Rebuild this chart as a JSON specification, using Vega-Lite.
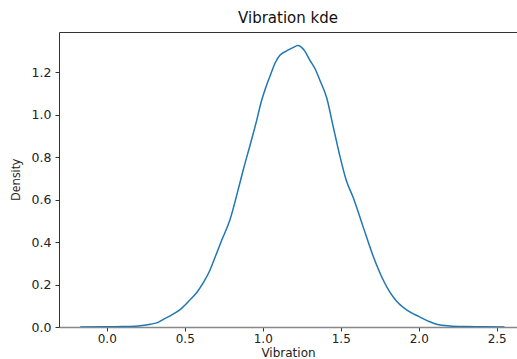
{
  "$schema": "https://vega.github.io/schema/vega-lite/v6.json",
  "autosize": "none",
  "width": 458,
  "height": 295,
  "padding": {"left": 59, "top": 32, "right": 0, "bottom": 32},
  "background": "white",
  "title": {"text": "Vibration kde", "font": "DejaVu Sans", "fontSize": 15, "fontWeight": "normal", "color": "#111", "offset": 6, "anchor": "middle"},
  "config": {
    "view": {"stroke": null},
    "axis": {"grid": false, "labelFont": "DejaVu Sans", "titleFont": "DejaVu Sans", "labelFontSize": 12.5, "titleFontSize": 12, "titleFontWeight": "normal", "labelColor": "#222", "titleColor": "#222", "tickColor": "#333", "tickSize": 4, "domainColor": "#333"}
  },
  "data": {"values": [
    {"v": -0.17, "d": 0.0},
    {"v": 0.0, "d": 0.001},
    {"v": 0.1, "d": 0.002},
    {"v": 0.2, "d": 0.005},
    {"v": 0.28, "d": 0.013},
    {"v": 0.33, "d": 0.022},
    {"v": 0.36, "d": 0.035},
    {"v": 0.42, "d": 0.058},
    {"v": 0.47, "d": 0.082},
    {"v": 0.53, "d": 0.125},
    {"v": 0.58, "d": 0.165},
    {"v": 0.62, "d": 0.21},
    {"v": 0.66, "d": 0.265},
    {"v": 0.69, "d": 0.32},
    {"v": 0.735, "d": 0.405},
    {"v": 0.79, "d": 0.505},
    {"v": 0.84, "d": 0.64},
    {"v": 0.875, "d": 0.74},
    {"v": 0.92, "d": 0.86},
    {"v": 0.96, "d": 0.97},
    {"v": 0.99, "d": 1.06},
    {"v": 1.02, "d": 1.13},
    {"v": 1.056, "d": 1.2},
    {"v": 1.08, "d": 1.245},
    {"v": 1.11, "d": 1.28},
    {"v": 1.15, "d": 1.30},
    {"v": 1.19, "d": 1.315},
    {"v": 1.225, "d": 1.326},
    {"v": 1.245, "d": 1.32},
    {"v": 1.27, "d": 1.30},
    {"v": 1.30, "d": 1.26},
    {"v": 1.34, "d": 1.21},
    {"v": 1.365, "d": 1.165},
    {"v": 1.41, "d": 1.08},
    {"v": 1.45, "d": 0.95},
    {"v": 1.49, "d": 0.82},
    {"v": 1.536, "d": 0.69},
    {"v": 1.58, "d": 0.61},
    {"v": 1.64, "d": 0.48},
    {"v": 1.71, "d": 0.33},
    {"v": 1.77, "d": 0.225},
    {"v": 1.81, "d": 0.17},
    {"v": 1.86, "d": 0.12},
    {"v": 1.94, "d": 0.072},
    {"v": 2.0, "d": 0.05},
    {"v": 2.07, "d": 0.025},
    {"v": 2.12, "d": 0.012},
    {"v": 2.2, "d": 0.005},
    {"v": 2.3, "d": 0.002},
    {"v": 2.4, "d": 0.001},
    {"v": 2.55, "d": 0.0}
  ]},
  "layer": [
    {
      "mark": {"type": "line", "color": "#1f77b4", "strokeWidth": 1.5, "interpolate": "monotone", "clip": true},
      "encoding": {
        "x": {"field": "v", "type": "quantitative", "title": "Vibration",
              "scale": {"domain": [-0.306, 2.63], "nice": false, "zero": false},
              "axis": {"values": [0, 0.5, 1, 1.5, 2, 2.5], "format": ".1f", "labelPadding": 2, "labelFontSize": 12, "titleY": 32, "titleBaseline": "bottom", "domainColor": "#888", "domainWidth": 1.5}},
        "y": {"field": "d", "type": "quantitative", "title": "Density",
              "scale": {"domain": [0, 1.39], "nice": false},
              "axis": {"values": [0, 0.2, 0.4, 0.6, 0.8, 1.0, 1.2], "format": ".1f", "labelPadding": 4, "titlePadding": 9, "titleFont": "Open Sans", "titleFontSize": 12}}
      }
    },
    {
      "mark": {"type": "line", "opacity": 0},
      "encoding": {
        "x": {"field": "v", "type": "quantitative",
              "axis": {"orient": "top", "labels": false, "ticks": false, "title": null, "domainColor": "#333", "domainWidth": 1}}
      }
    }
  ],
  "resolve": {"axis": {"x": "independent"}}
}
